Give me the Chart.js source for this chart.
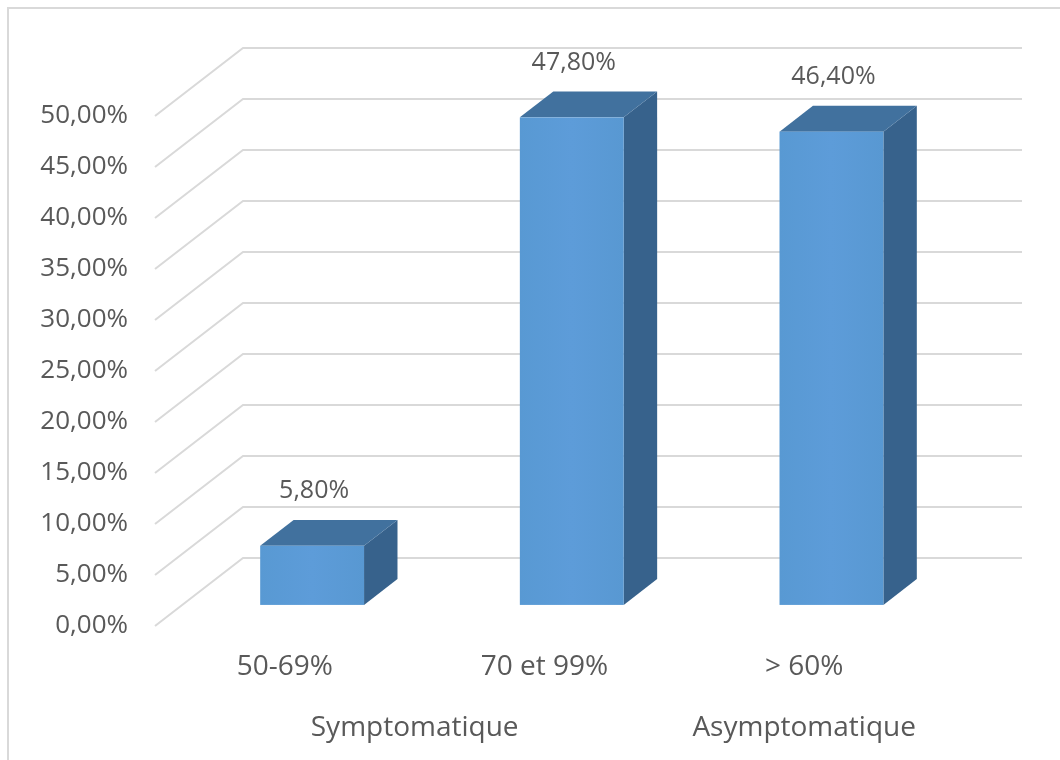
<!DOCTYPE html>
<html>
<head>
<meta charset="utf-8">
<title>Sténose carotidienne</title>
<script src="https://cdn.jsdelivr.net/npm/chart.js@4/dist/chart.umd.min.js"></script>
<style>
  html, body { margin: 0; padding: 0; background: #fff; }
  #wrap { position: relative; width: 1060px; height: 760px; }
</style>
</head>
<body>
<div id="wrap"><canvas id="stenoseChart"></canvas></div>
<script>
// categories and values
const categories = ['50-69%', '70 et 99%', '> 60%'];
const values = [5.8, 47.8, 46.4];
const groupNames = ['Symptomatique', 'Asymptomatique'];
const groupFirst = [0, 2];
const groupLast = [1, 2];
const yMax = 50;
const yStep = 5;

// 3D look: depth of the floor/back wall and where the bars sit in it
const DEPTH_X = 88, DEPTH_Y = 68;
const BAR_FRONT = 0.31, BAR_BACK = 0.69;
const TEXT = '#595959';
const FONT = '"Open Sans", "Noto Sans", sans-serif';

function pct(v) {
    return v.toFixed(2).replace('.', ',') + '%';
}

const excel3d = {
    id: 'excel3d',
    beforeDatasetsDraw(chart) {
        const ctx = chart.ctx;
        const area = chart.chartArea;
        const y = chart.scales.y;

        // outer frame (top and left only)
        ctx.save();
        ctx.strokeStyle = '#d9d9d9';
        ctx.lineWidth = 2;
        ctx.beginPath();
        ctx.moveTo(8, 760);
        ctx.lineTo(8, 8);
        ctx.lineTo(1060, 8);
        ctx.stroke();

        // gridlines: diagonal on the side wall, then along the back wall
        for (let v = 0; v <= yMax; v += yStep) {
            const py = y.getPixelForValue(v);
            ctx.beginPath();
            ctx.moveTo(area.left, py);
            ctx.lineTo(area.left + DEPTH_X, py - DEPTH_Y);
            ctx.lineTo(area.right + DEPTH_X, py - DEPTH_Y);
            ctx.stroke();
        }
        ctx.restore();
    },
    afterDatasetsDraw(chart) {
        const ctx = chart.ctx;
        const y = chart.scales.y;
        const x = chart.scales.x;
        const meta = chart.getDatasetMeta(0);
        const fx = BAR_FRONT * DEPTH_X, fy = BAR_FRONT * DEPTH_Y;
        const bx = (BAR_BACK - BAR_FRONT) * DEPTH_X, by = (BAR_BACK - BAR_FRONT) * DEPTH_Y;

        ctx.save();
        meta.data.forEach((bar, i) => {
            const x0 = bar.x - bar.width / 2 + fx;
            const x1 = bar.x + bar.width / 2 + fx;
            const yb = y.getPixelForValue(0) - fy;
            const yt = y.getPixelForValue(values[i]) - fy;

            // side face
            ctx.fillStyle = '#37628c';
            ctx.beginPath();
            ctx.moveTo(x1, yt);
            ctx.lineTo(x1 + bx, yt - by);
            ctx.lineTo(x1 + bx, yb - by);
            ctx.lineTo(x1, yb);
            ctx.closePath();
            ctx.fill();

            // top face
            ctx.fillStyle = '#41719e';
            ctx.beginPath();
            ctx.moveTo(x0, yt);
            ctx.lineTo(x0 + bx, yt - by);
            ctx.lineTo(x1 + bx, yt - by);
            ctx.lineTo(x1, yt);
            ctx.closePath();
            ctx.fill();

            // front face
            const grad = ctx.createLinearGradient(x0, 0, x1, 0);
            grad.addColorStop(0, '#5899d3');
            grad.addColorStop(0.5, '#5d9cd9');
            grad.addColorStop(1, '#5898d2');
            ctx.fillStyle = grad;
            ctx.fillRect(x0, yt, x1 - x0, yb - yt);

            // value label
            ctx.fillStyle = TEXT;
            ctx.font = '25px ' + FONT;
            ctx.textAlign = 'center';
            ctx.textBaseline = 'middle';
            ctx.fillText(pct(values[i]), bar.x + fx + 2, yt - by - 29);
        });

        // group labels under the categories
        ctx.fillStyle = TEXT;
        ctx.font = '28px ' + FONT;
        ctx.textAlign = 'center';
        ctx.textBaseline = 'middle';
        groupNames.forEach((name, g) => {
            const cx = (x.getPixelForValue(groupFirst[g]) + x.getPixelForValue(groupLast[g])) / 2;
            ctx.fillText(name, cx, 728);
        });
        ctx.restore();
    }
};

const ctx = document.getElementById('stenoseChart').getContext('2d');
const stenoseChart = new Chart(ctx, {
    type: 'bar',
    data: {
        labels: categories,
        datasets: [{
            data: values,
            backgroundColor: 'rgba(0,0,0,0)',
            borderWidth: 0,
            barPercentage: 0.4,
            categoryPercentage: 1
        }]
    },
    options: {
        responsive: true,
        maintainAspectRatio: false,
        animation: false,
        layout: {
            padding: { top: 116, right: 126, left: 0, bottom: 0 }
        },
        plugins: {
            legend: { display: false },
            tooltip: { enabled: false }
        },
        scales: {
            y: {
                min: 0,
                max: yMax,
                border: { display: false },
                grid: { display: false, drawTicks: false },
                ticks: {
                    stepSize: yStep,
                    padding: 27,
                    color: TEXT,
                    font: { family: FONT, size: 26 },
                    callback: v => pct(v)
                },
                afterFit: s => { s.width = 155; }
            },
            x: {
                border: { display: false },
                grid: { display: false, drawTicks: false },
                ticks: {
                    padding: 24,
                    color: TEXT,
                    maxRotation: 0,
                    font: { family: FONT, size: 28 }
                },
                afterFit: s => { s.height = 134; }
            }
        }
    },
    plugins: [excel3d]
});
</script>
</body>
</html>
